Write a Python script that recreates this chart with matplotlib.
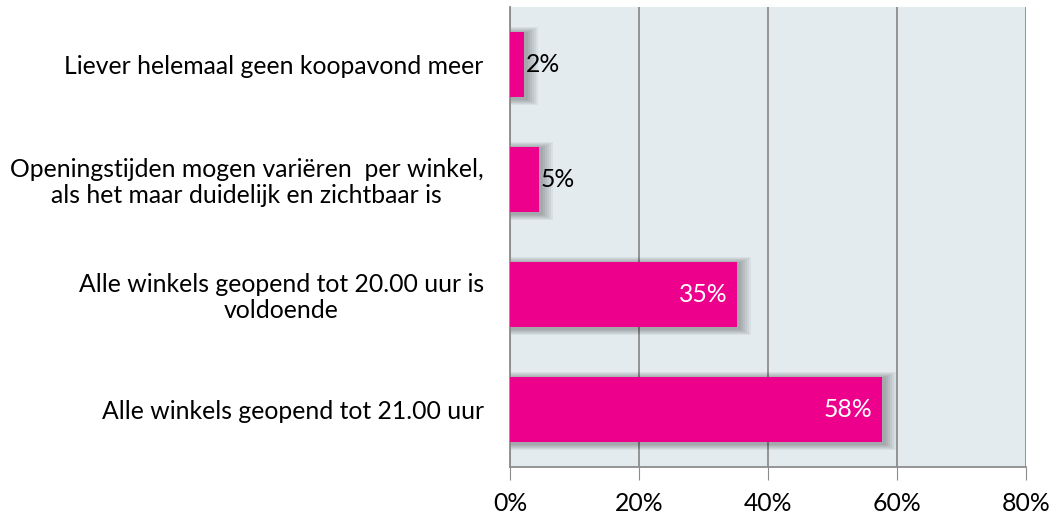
import matplotlib.pyplot as plt
from matplotlib.patches import Rectangle

plt.rcParams['font.family'] = ['Lato', 'DejaVu Sans']

categories = [
    "Alle winkels geopend tot 21.00 uur",
    "Alle winkels geopend tot 20.00 uur is\nvoldoende",
    "Openingstijden mogen variëren  per winkel,\nals het maar duidelijk en zichtbaar is",
    "Liever helemaal geen koopavond meer",
]
values = [57.7, 35.2, 4.5, 2.2]
labels = ["58%", "35%", "5%", "2%"]
xticks = [0, 20, 40, 60, 80]

bar_color = "#EC008C"
bg_color = "#E3EBEF"
grid_color = "#8C8C8C"
bar_h = 0.57
fs = 17.8

fig = plt.figure(figsize=(10.56, 5.22), dpi=100)
ax = fig.add_axes([0.483, 0.1054, 0.4886, 0.8812])
ax.set_facecolor(bg_color)

ys = list(range(len(categories)))

# soft shadow behind the bars (stacked translucent rectangles)
for y, v in zip(ys, values):
    for i in range(6):
        pad = (6 - i) * 0.3
        padv = (6 - i) * 0.009
        ax.add_patch(Rectangle((0, y - bar_h / 2 - padv - 0.015), v + pad + 0.3, bar_h + 2 * padv,
                               facecolor="#000000", alpha=0.05, edgecolor="none", zorder=2))

ax.barh(ys, values, height=bar_h, color=bar_color, zorder=3)

for y, v, lab in zip(ys, values, labels):
    if v > 20:
        ax.text(v - 1.5, y, lab, ha="right", va="center", color="white", fontsize=fs, zorder=4)
    else:
        ax.text(v + 0.3, y, lab, ha="left", va="center", color="black", fontsize=fs, zorder=4)

ax.set_xlim(0, 80)
ax.set_ylim(-0.5, len(categories) - 0.5)
ax.set_xticks(xticks)
ax.set_xticklabels([f"{t}%" for t in xticks], fontsize=fs)
ax.set_yticks(ys)
ax.set_yticklabels(categories, fontsize=fs, multialignment="center", linespacing=1.15)
ax.tick_params(axis="y", length=0, pad=19)
ax.tick_params(axis="x", length=9, color=grid_color, pad=9)
ax.grid(axis="x", color=grid_color, linewidth=1.3, zorder=1)
ax.set_axisbelow(True)

for s in ["top", "right"]:
    ax.spines[s].set_visible(False)
ax.spines["left"].set_color(grid_color)
ax.spines["bottom"].set_color(grid_color)
ax.spines["left"].set_linewidth(1.3)
ax.spines["bottom"].set_linewidth(1.3)

fig.savefig("out.png", dpi=100, facecolor="white")
